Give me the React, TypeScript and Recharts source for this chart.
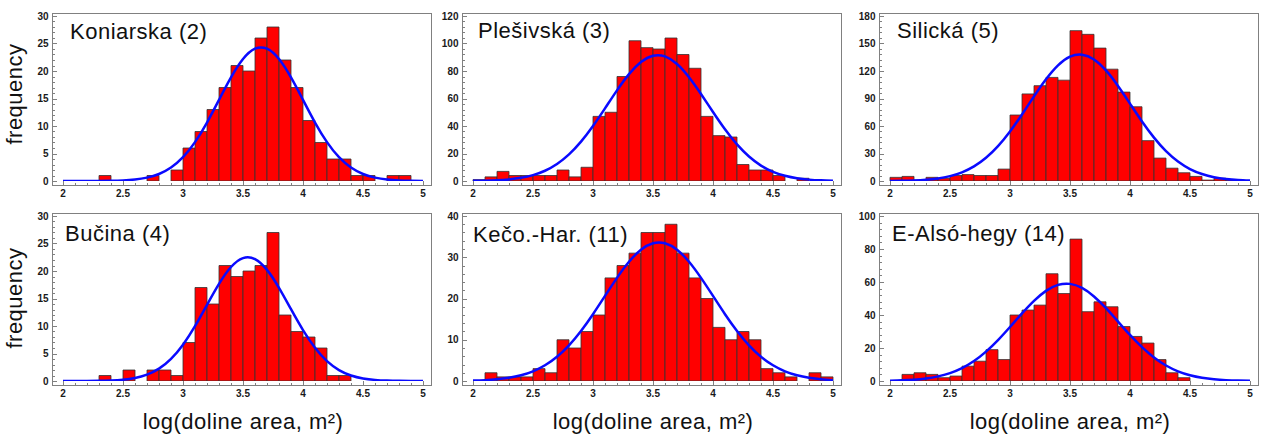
import { Bar, ComposedChart, Line, XAxis, YAxis } from "recharts";

// bin starts (bin width 0.1) and the x positions at which the fitted curve is read
const binStarts = [
  2.0, 2.1, 2.2, 2.3, 2.4, 2.5, 2.6, 2.7, 2.8, 2.9, 3.0, 3.1, 3.2, 3.3, 3.4,
  3.5, 3.6, 3.7, 3.8, 3.9, 4.0, 4.1, 4.2, 4.3, 4.4, 4.5, 4.6, 4.7, 4.8, 4.9,
];
const fitX = [
  2.0, 2.1, 2.2, 2.3, 2.4, 2.5, 2.6, 2.7, 2.8, 2.9, 3.0, 3.1, 3.2, 3.3, 3.4,
  3.5, 3.6, 3.7, 3.8, 3.9, 4.0, 4.1, 4.2, 4.3, 4.4, 4.5, 4.6, 4.7, 4.8, 4.9, 5.0,
];
const xTickLabels = [2, 2.5, 3, 3.5, 4, 4.5, 5];

const koniarskaCounts = [0, 0, 0, 1, 0, 0, 0, 1, 0, 2, 6, 9, 13, 17, 21, 20, 26, 28, 22, 17, 11, 7, 4, 4, 1, 1, 0, 1, 1, 0];
const koniarskaFit = [0, 0, 0.01, 0.01, 0.04, 0.11, 0.27, 0.61, 1.27, 2.45, 4.33, 7.07, 10.63, 14.74, 18.83, 22.17, 24.05, 24.05, 22.17, 18.83, 14.74, 10.63, 7.07, 4.33, 2.45, 1.27, 0.61, 0.27, 0.11, 0.04, 0.01];
const koniarskaYTicks = [0, 5, 10, 15, 20, 25, 30];

const plesivskaCounts = [1, 3, 7, 4, 4, 4, 4, 8, 3, 10, 47, 50, 76, 102, 97, 96, 104, 92, 82, 47, 33, 32, 12, 8, 8, 4, 0, 2, 0, 0];
const plesivskaFit = [0.11, 0.25, 0.56, 1.17, 2.29, 4.25, 7.46, 12.36, 19.34, 28.62, 40.0, 52.8, 65.9, 77.7, 86.5, 91.1, 90.6, 85.1, 75.5, 63.3, 50.2, 37.6, 26.6, 17.8, 11.2, 6.7, 3.8, 2.0, 1.0, 0.48, 0.22];
const plesivskaYTicks = [0, 20, 40, 60, 80, 100, 120];

const silickaCounts = [4, 5, 1, 4, 3, 6, 7, 6, 6, 13, 72, 95, 104, 113, 110, 164, 160, 145, 122, 97, 81, 44, 25, 14, 9, 5, 1, 3, 1, 0];
const silickaFit = [0.13, 0.31, 0.68, 1.43, 2.84, 5.34, 9.48, 15.9, 25.3, 38.0, 54.0, 72.6, 92.3, 110.9, 126.1, 135.6, 137.8, 132.6, 120.6, 103.7, 84.4, 64.9, 47.3, 32.5, 21.2, 13.0, 7.6, 4.2, 2.2, 1.07, 0.5];
const silickaYTicks = [0, 30, 60, 90, 120, 150, 180];

const bucinaCounts = [0, 0, 0, 1, 0, 2, 0, 2, 2, 1, 7, 17, 14, 21, 19, 20, 21, 27, 12, 9, 8, 6, 1, 1, 0, 0, 0, 0, 0, 0];
const bucinaFit = [0, 0, 0.01, 0.04, 0.1, 0.24, 0.55, 1.16, 2.25, 4.03, 6.61, 9.97, 13.84, 17.66, 20.72, 22.35, 22.16, 20.2, 16.94, 13.05, 9.25, 6.03, 3.61, 1.99, 1.0, 0.47, 0.2, 0.08, 0.03, 0.01, 0];
const bucinaYTicks = [0, 5, 10, 15, 20, 25, 30];

const kecoCounts = [0, 2, 1, 1, 1, 3, 2, 10, 8, 12, 16, 25, 28, 31, 36, 36, 38, 31, 25, 20, 13, 10, 12, 10, 3, 2, 1, 0, 2, 1];
const kecoFit = [0.1, 0.21, 0.41, 0.78, 1.38, 2.35, 3.81, 5.89, 8.66, 12.13, 16.2, 20.62, 25.0, 28.9, 31.83, 33.4, 33.4, 31.83, 28.9, 25.0, 20.62, 16.2, 12.13, 8.66, 5.89, 3.81, 2.35, 1.38, 0.78, 0.41, 0.21];
const kecoYTicks = [0, 10, 20, 30, 40];

const alsoHegyCounts = [0, 4, 5, 4, 2, 3, 9, 12, 19, 13, 40, 43, 46, 65, 53, 86, 42, 48, 45, 33, 27, 23, 13, 5, 2, 0, 0, 0, 0, 0];
const alsoHegyFit = [0.19, 0.4, 0.8, 1.53, 2.79, 4.8, 7.84, 12.14, 17.82, 24.81, 32.74, 40.95, 48.57, 54.62, 58.23, 58.86, 56.4, 51.24, 44.13, 36.03, 27.9, 20.48, 14.25, 9.4, 5.88, 3.49, 1.96, 1.04, 0.53, 0.25, 0.12];
const alsoHegyYTicks = [0, 20, 40, 60, 80, 100];

const FRAME_W = 380;
const FRAME_H = 173;
const Y_AXIS_W = 40;
const X_AXIS_H = 20;
const M = 2;
const X_PAD = { left: 11, right: 9 };
const Y_PAD = { top: 3, bottom: 5 };
const FRAME = "#808080";
const LABEL = "#1a1a1a";
const FONT = "Arial, 'Liberation Sans', sans-serif";

const isMajor = (v: number, step: number) =>
  Math.abs(v / step - Math.round(v / step)) < 1e-6;

const withMinor = (major: number[]) => {
  const step = (major[1] - major[0]) / 5;
  const out: number[] = [];
  const n = Math.round((major[major.length - 1] - major[0]) / step);
  for (let i = 0; i <= n; i++) out.push(Math.round((major[0] + i * step) * 1000) / 1000);
  return out;
};

const xAllTicks = withMinor(xTickLabels);

const labelStyle = { fontFamily: FONT, fontSize: 10, fontWeight: 700, fill: LABEL };

type PanelProps = {
  counts: number[];
  fit: number[];
  yTicks: number[];
  left: number;
  top: number;
};

const Panel = ({ counts, fit, yTicks, left, top }: PanelProps) => {
  const binRows = binStarts.map((b, i) => ({ bin: b.toFixed(1), count: counts[i] }));
  const fitRows = fitX.map((x, i) => ({ x, fit: fit[i] }));
  const yMax = yTicks[yTicks.length - 1];
  const yStep = yTicks[1] - yTicks[0];
  const yAll = withMinor(yTicks);

  // tick marks drawn as paths, pointing into the plot box
  const bottomTick = (p: any) => {
    const v = p.payload.value;
    const major = isMajor(v, 0.5);
    const x = Math.round(p.x) + 0.5;
    return (
      <g>
        <path d={`M${x},${p.y}V${p.y - (major ? 5 : 3)}`} stroke={FRAME} strokeWidth={1} fill="none" />
        {major && (
          <text x={p.x} y={p.y + 11} textAnchor="middle" style={labelStyle}>
            {v}
          </text>
        )}
      </g>
    );
  };
  const topTick = (p: any) => {
    const major = isMajor(p.payload.value, 0.5);
    const x = Math.round(p.x) + 0.5;
    return <path d={`M${x},${p.y}V${p.y + (major ? 5 : 3)}`} stroke={FRAME} strokeWidth={1} fill="none" />;
  };
  const leftTick = (p: any) => {
    const v = p.payload.value;
    const major = isMajor(v, yStep);
    const y = Math.round(p.y) + 0.5;
    return (
      <g>
        <path d={`M${p.x},${y}H${p.x + (major ? 5 : 3)}`} stroke={FRAME} strokeWidth={1} fill="none" />
        {major && (
          <text x={p.x - 3.5} y={p.y + 3.5} textAnchor="end" style={labelStyle}>
            {v}
          </text>
        )}
      </g>
    );
  };
  const rightTick = (p: any) => {
    const major = isMajor(p.payload.value, yStep);
    const y = Math.round(p.y) + 0.5;
    return <path d={`M${p.x},${y}H${p.x - (major ? 5 : 3)}`} stroke={FRAME} strokeWidth={1} fill="none" />;
  };

  return (
    <>
      <div
        style={{
          position: "absolute",
          left,
          top,
          width: FRAME_W,
          height: FRAME_H,
          border: `1px solid ${FRAME}`,
          boxSizing: "border-box",
        }}
      />
      <div style={{ position: "absolute", left: left - Y_AXIS_W, top: top - M }}>
        <ComposedChart
          width={Y_AXIS_W + FRAME_W + M}
          height={M + FRAME_H + X_AXIS_H}
          data={binRows}
          margin={{ top: M, right: M, bottom: 0, left: 0 }}
          barCategoryGap={0}
          barGap={0}
        >
          <XAxis
            xAxisId="num"
            dataKey="x"
            type="number"
            domain={[2, 5]}
            allowDataOverflow
            ticks={xAllTicks}
            interval={0}
            padding={X_PAD}
            height={X_AXIS_H}
            tickSize={0}
            tickMargin={0}
            tickLine={false}
            axisLine={false}
            tick={bottomTick}
          />
          <XAxis xAxisId="bins" dataKey="bin" type="category" hide height={0} padding={X_PAD} />
          <XAxis
            xAxisId="top"
            orientation="top"
            type="number"
            domain={[2, 5]}
            allowDataOverflow
            ticks={xAllTicks}
            interval={0}
            padding={X_PAD}
            height={0}
            tickSize={0}
            tickMargin={0}
            tickLine={false}
            axisLine={false}
            tick={topTick}
          />
          <YAxis
            yAxisId="l"
            type="number"
            domain={[0, yMax]}
            allowDataOverflow
            ticks={yAll}
            interval={0}
            padding={Y_PAD}
            width={Y_AXIS_W}
            tickSize={0}
            tickMargin={0}
            tickLine={false}
            axisLine={false}
            tick={leftTick}
          />
          <YAxis
            yAxisId="r"
            orientation="right"
            type="number"
            domain={[0, yMax]}
            allowDataOverflow
            ticks={yAll}
            interval={0}
            padding={Y_PAD}
            width={0}
            tickSize={0}
            tickMargin={0}
            tickLine={false}
            axisLine={false}
            tick={rightTick}
          />
          <Bar
            xAxisId="bins"
            yAxisId="l"
            dataKey="count"
            fill="#ff0000"
            stroke="#333333"
            strokeWidth={0.8}
            isAnimationActive={false}
          />
          <Line
            xAxisId="num"
            yAxisId="l"
            data={fitRows}
            dataKey="fit"
            type="natural"
            stroke="#0a0aff"
            strokeWidth={2.5}
            dot={false}
            activeDot={false}
            isAnimationActive={false}
          />
        </ComposedChart>
      </div>
    </>
  );
};

const panels = [
  { title: "Koniarska (2)", counts: koniarskaCounts, fit: koniarskaFit, yTicks: koniarskaYTicks, left: 52, top: 13, titleX: 70, titleY: 38.5 },
  { title: "Plešivská (3)", counts: plesivskaCounts, fit: plesivskaFit, yTicks: plesivskaYTicks, left: 462, top: 13, titleX: 478, titleY: 38 },
  { title: "Silická (5)", counts: silickaCounts, fit: silickaFit, yTicks: silickaYTicks, left: 879, top: 13, titleX: 897, titleY: 38 },
  { title: "Bučina (4)", counts: bucinaCounts, fit: bucinaFit, yTicks: bucinaYTicks, left: 52, top: 213, titleX: 65, titleY: 241 },
  { title: "Kečo.-Har. (11)", counts: kecoCounts, fit: kecoFit, yTicks: kecoYTicks, left: 462, top: 213, titleX: 473, titleY: 241.5 },
  { title: "E-Alsó-hegy (14)", counts: alsoHegyCounts, fit: alsoHegyFit, yTicks: alsoHegyYTicks, left: 879, top: 213, titleX: 892, titleY: 241 },
];

const bigText = { fontFamily: FONT, fontSize: 22, letterSpacing: 0.5, fill: "#111" };

export default function App() {
  return (
    <div style={{ position: "absolute", left: 0, top: 0, width: 1261, height: 435, background: "#fff" }}>
      {panels.map((p) => (
        <Panel key={p.title} counts={p.counts} fit={p.fit} yTicks={p.yTicks} left={p.left} top={p.top} />
      ))}
      <svg
        width={1261}
        height={435}
        style={{ position: "absolute", left: 0, top: 0, pointerEvents: "none" }}
      >
        {panels.map((p) => (
          <text key={p.title} x={p.titleX} y={p.titleY} style={bigText}>
            {p.title}
          </text>
        ))}
        <text transform="translate(22, 94) rotate(-90)" textAnchor="middle" style={bigText}>
          frequency
        </text>
        <text transform="translate(22, 298) rotate(-90)" textAnchor="middle" style={bigText}>
          frequency
        </text>
        {[52, 462, 879].map((l) => (
          <text key={l} x={l + X_PAD.left + 180} y={429} textAnchor="middle" style={bigText}>
            log(doline area, m²)
          </text>
        ))}
      </svg>
    </div>
  );
}
